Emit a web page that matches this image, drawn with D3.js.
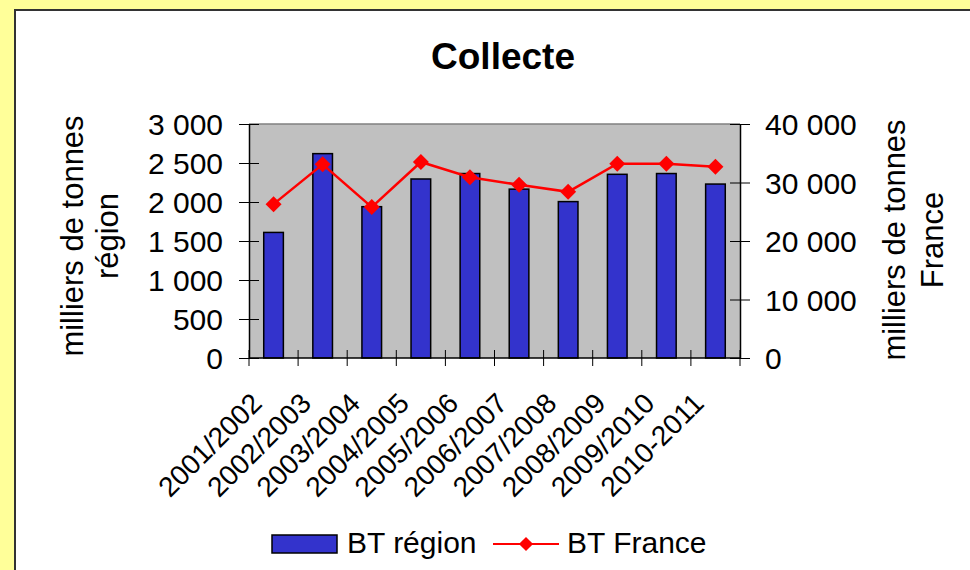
<!DOCTYPE html>
<html>
<head>
<meta charset="utf-8">
<script src="https://cdn.jsdelivr.net/npm/d3@7"></script>
<style>
  body { margin: 0; background: #ffff99; }
  text { font-family: "Liberation Sans", Arial, sans-serif; fill: #000; }
</style>
</head>
<body>
<div id="viz"></div>
<script>
const width = 970;
const height = 570;
const margin = {top: 124, right: 230, bottom: 212, left: 249}; // plot area 249..740 x 124..358

// data
const categories = ['2001/2002', '2002/2003', '2003/2004', '2004/2005', '2005/2006',
  '2006/2007', '2007/2008', '2008/2009', '2009/2010', '2010-2011'];
const btRegion = [1610, 2620, 1940, 2295, 2365, 2165, 2005, 2355, 2365, 2230];
const btFrance = [26300, 33100, 25800, 33500, 30900, 29600, 28400, 33200, 33200, 32700];
const leftTicks = [0, 500, 1000, 1500, 2000, 2500, 3000];
const rightTicks = [0, 10000, 20000, 30000, 40000];

const barColor = '#3333cc';
const lineColor = '#ff0000';
const plotBg = '#c0c0c0';

const fmt = d => d3.format(',')(d).replace(/,/g, ' ');

const svg = d3.select('#viz')
  .append('svg')
  .attr('width', width)
  .attr('height', height)
  .attr('viewBox', [0, 0, width, height]);

// white chart panel on the yellow page
svg.append('rect')
  .attr('x', 15).attr('y', 10)
  .attr('width', width).attr('height', height)
  .attr('fill', '#fff')
  .attr('stroke', '#333')
  .attr('stroke-width', 2);

// Scales
const xScale = d3.scaleBand()
  .domain(categories)
  .range([margin.left, width - margin.right]);

const yLeft = d3.scaleLinear()
  .domain([0, 3000])
  .range([height - margin.bottom, margin.top]);

const yRight = d3.scaleLinear()
  .domain([0, 40000])
  .range([height - margin.bottom, margin.top]);

const x0 = xScale.range()[0], x1 = xScale.range()[1];
const yBottom = yLeft(0), yTop = yLeft(3000);

// plot area
svg.append('rect')
  .attr('x', x0).attr('y', yTop)
  .attr('width', x1 - x0).attr('height', yBottom - yTop)
  .attr('fill', plotBg);

svg.append('line')
  .attr('x1', x0).attr('x2', x1)
  .attr('y1', yTop).attr('y2', yTop)
  .attr('stroke', '#808080')
  .attr('stroke-width', 1.5);

// Bars
const barW = xScale.bandwidth() / 2.5;
svg.selectAll('.bar')
  .data(categories)
  .join('rect')
    .attr('class', 'bar')
    .attr('x', (d, i) => xScale(d) + (xScale.bandwidth() - barW) / 2)
    .attr('y', (d, i) => yLeft(btRegion[i]))
    .attr('width', barW)
    .attr('height', (d, i) => yBottom - yLeft(btRegion[i]))
    .attr('fill', barColor)
    .attr('stroke', '#000')
    .attr('stroke-width', 1.5);

// Axes
const leftAxis = svg.append('g')
  .attr('transform', `translate(${x0}, 0)`)
  .call(d3.axisLeft(yLeft).tickValues(leftTicks).tickFormat(fmt).tickSizeOuter(0));

const rightAxis = svg.append('g')
  .attr('transform', `translate(${x1}, 0)`)
  .call(d3.axisRight(yRight).tickValues(rightTicks).tickFormat(fmt).tickSizeOuter(0));

[leftAxis, rightAxis].forEach(g => {
  g.select('.domain').attr('stroke', '#000').attr('stroke-width', 1.5);
  g.selectAll('.tick line').attr('x1', -10).attr('x2', 10).attr('stroke', '#000');
  g.selectAll('.tick text')
    .attr('font-size', 30)
    .attr('font-family', '"Liberation Sans", Arial, sans-serif')
    .attr('dy', '0.35em');
});
leftAxis.selectAll('.tick text').attr('x', -26);
rightAxis.selectAll('.tick text').attr('x', 25);

// category axis: line, ticks between categories, rotated labels
svg.append('line')
  .attr('x1', x0).attr('x2', x1)
  .attr('y1', yBottom).attr('y2', yBottom)
  .attr('stroke', '#000')
  .attr('stroke-width', 1.5);

const bounds = categories.map(c => xScale(c)).concat([x1]);
svg.selectAll('.xtick')
  .data(bounds)
  .join('line')
    .attr('class', 'xtick')
    .attr('x1', d => d).attr('x2', d => d)
    .attr('y1', yBottom - 8).attr('y2', yBottom + 8)
    .attr('stroke', '#000');

svg.selectAll('.xlabel')
  .data(categories)
  .join('text')
    .attr('class', 'xlabel')
    .attr('text-anchor', 'end')
    .attr('font-size', 28)
    .attr('transform', d => {
      const cx = xScale(d) + xScale.bandwidth() / 2 - 10;
      return `translate(${cx}, ${yBottom + 47}) rotate(-45)`;
    })
    .text(d => d);

// France line + diamonds
const line = d3.line()
  .x((d, i) => xScale(categories[i]) + xScale.bandwidth() / 2)
  .y(d => yRight(d));

svg.append('path')
  .attr('d', line(btFrance))
  .attr('fill', 'none')
  .attr('stroke', lineColor)
  .attr('stroke-width', 2.5);

const diamond = d3.symbol().type(d3.symbolSquare).size(128);
svg.selectAll('.marker')
  .data(btFrance)
  .join('path')
    .attr('class', 'marker')
    .attr('d', diamond)
    .attr('transform', (d, i) =>
      `translate(${xScale(categories[i]) + xScale.bandwidth() / 2}, ${yRight(d)}) rotate(45)`)
    .attr('fill', lineColor);

// Title
svg.append('text')
  .attr('x', 503).attr('y', 69)
  .attr('text-anchor', 'middle')
  .attr('font-size', 37)
  .attr('font-weight', 'bold')
  .text('Collecte');

// Axis titles
const leftTitle = svg.append('text')
  .attr('transform', 'translate(83, 236) rotate(-90)')
  .attr('text-anchor', 'middle')
  .attr('font-size', 31);
leftTitle.append('tspan').attr('x', 0).attr('y', 0).text('milliers de tonnes');
leftTitle.append('tspan').attr('x', 0).attr('y', 35).text('région');

const rightTitle = svg.append('text')
  .attr('transform', 'translate(905, 240) rotate(-90)')
  .attr('text-anchor', 'middle')
  .attr('font-size', 31);
rightTitle.append('tspan').attr('x', 0).attr('y', 0).text('milliers de tonnes');
rightTitle.append('tspan').attr('x', 0).attr('y', 38).text('France');

// Legend
const legend = svg.append('g');
legend.append('rect')
  .attr('x', 272).attr('y', 535)
  .attr('width', 65).attr('height', 18)
  .attr('fill', barColor)
  .attr('stroke', '#000')
  .attr('stroke-width', 1.5);
legend.append('text')
  .attr('x', 347).attr('y', 553)
  .attr('font-size', 30)
  .text('BT région');
legend.append('line')
  .attr('x1', 493).attr('x2', 559)
  .attr('y1', 544).attr('y2', 544)
  .attr('stroke', lineColor)
  .attr('stroke-width', 2);
legend.append('path')
  .attr('d', d3.symbol().type(d3.symbolSquare).size(100))
  .attr('transform', 'translate(526, 544) rotate(45)')
  .attr('fill', lineColor);
legend.append('text')
  .attr('x', 567).attr('y', 553)
  .attr('font-size', 30)
  .text('BT France');
</script>
</body>
</html>
